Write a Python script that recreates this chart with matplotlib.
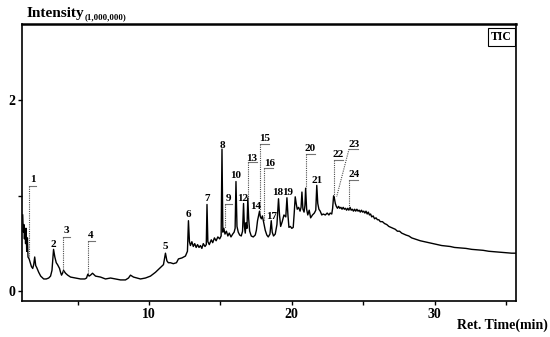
import matplotlib
matplotlib.use("Agg")
import matplotlib.pyplot as plt

# TIC trace (ret. time in min, intensity x 1,000,000)
ret_time = [
    1.15, 1.19, 1.23, 1.27, 1.31, 1.35, 1.39, 1.43, 1.48, 1.52, 1.60, 1.68, 1.76, 1.85, 1.92,
    1.99, 2.06, 2.13, 2.27, 2.41, 2.62, 2.80, 2.97, 3.10, 3.20, 3.31, 3.40, 3.50, 3.59, 3.73,
    3.80, 3.87, 3.94, 4.01, 4.15, 4.30, 4.50, 4.85, 5.20, 5.50, 5.62, 5.71, 5.80, 5.90, 6.04,
    6.25, 6.60, 6.95, 7.30, 7.65, 8.00, 8.35, 8.56, 8.70, 8.91, 9.15, 9.40, 9.75, 10.10, 10.45,
    10.80, 11.01, 11.15, 11.25, 11.35, 11.50, 11.70, 11.92, 12.06, 12.30, 12.55, 12.69, 12.76, 12.83,
    12.90, 13.00, 13.10, 13.20, 13.30, 13.40, 13.50, 13.60, 13.70, 13.80, 13.92, 14.01, 14.06, 14.12,
    14.22, 14.36, 14.46, 14.58, 14.70, 14.82, 14.95, 15.05, 15.11, 15.17, 15.24, 15.32, 15.42, 15.52,
    15.62, 15.74, 15.86, 15.96, 16.03, 16.09, 16.16, 16.25, 16.35, 16.46, 16.55, 16.62, 16.68, 16.74,
    16.80, 16.86, 16.92, 16.98, 17.05, 17.16, 17.30, 17.44, 17.52, 17.60, 17.68, 17.74, 17.80, 17.87,
    17.94, 18.02, 18.14, 18.25, 18.35, 18.47, 18.56, 18.63, 18.72, 18.84, 18.96, 19.07, 19.14, 19.22,
    19.33, 19.45, 19.58, 19.66, 19.73, 19.80, 19.90, 20.00, 20.10, 20.17, 20.24, 20.31, 20.38, 20.48,
    20.58, 20.65, 20.71, 20.78, 20.86, 20.92, 20.97, 21.04, 21.12, 21.22, 21.32, 21.45, 21.58, 21.68,
    21.75, 21.82, 21.90, 21.99, 22.10, 22.20, 22.35, 22.48, 22.60, 22.69, 22.80, 22.86, 22.93, 22.99,
    23.05, 23.12, 23.20, 23.28, 23.36, 23.44, 23.52, 23.60, 23.68, 23.76, 23.84, 23.92, 24.00, 24.08,
    24.16, 24.24, 24.32, 24.40, 24.48, 24.56, 24.64, 24.72, 24.80, 24.88, 24.96, 25.04, 25.12, 25.20,
    25.28, 25.36, 25.44, 25.52, 25.60, 25.70, 25.80, 25.90, 26.00, 26.10, 26.20, 26.35, 26.50, 26.65,
    26.80, 26.95, 27.10, 27.25, 27.40, 27.55, 27.70, 27.85, 28.00, 28.20, 28.40, 28.60, 28.80, 29.00,
    29.30, 29.60, 29.90, 30.20, 30.50, 30.80, 31.10, 31.40, 31.80, 32.20, 32.60, 33.00, 33.40, 33.80,
    34.20, 34.60, 35.00, 35.40, 35.70,
]
intensity = [
    0.80, 0.62, 0.70, 0.55, 0.66, 0.50, 0.66, 0.42, 0.56, 0.36, 0.34, 0.30, 0.26, 0.24, 0.28,
    0.36, 0.27, 0.25, 0.20, 0.16, 0.13, 0.13, 0.14, 0.16, 0.22, 0.44, 0.36, 0.30, 0.28, 0.24,
    0.20, 0.17, 0.19, 0.22, 0.19, 0.17, 0.15, 0.14, 0.13, 0.13, 0.14, 0.18, 0.16, 0.17, 0.19,
    0.16, 0.15, 0.13, 0.14, 0.13, 0.12, 0.12, 0.14, 0.17, 0.15, 0.14, 0.13, 0.14, 0.16, 0.20,
    0.25, 0.28, 0.40, 0.32, 0.30, 0.30, 0.29, 0.30, 0.34, 0.35, 0.37, 0.42, 0.74, 0.52,
    0.48, 0.52, 0.47, 0.50, 0.46, 0.49, 0.46, 0.48, 0.45, 0.50, 0.47, 0.49, 0.91, 0.52,
    0.49, 0.54, 0.51, 0.56, 0.53, 0.57, 0.55, 0.58, 1.49, 0.62, 0.66, 0.60, 0.63, 0.58,
    0.61, 0.57, 0.60, 0.62, 0.66, 1.15, 0.68, 0.62, 0.59, 0.58, 0.63, 0.92, 0.68, 0.61,
    0.72, 0.66, 0.98, 0.76, 0.63, 0.58, 0.57, 0.59, 0.64, 0.74, 0.80, 0.84, 0.78, 0.76,
    0.79, 0.73, 0.64, 0.59, 0.57, 0.60, 0.74, 0.62, 0.58, 0.60, 0.70, 0.97, 0.80, 0.68,
    0.73, 0.80, 0.78, 0.98, 0.80, 0.67, 0.68, 0.66, 0.67, 0.82, 0.99, 0.92, 0.86, 0.88,
    0.84, 0.88, 1.04, 0.86, 0.83, 0.90, 1.08, 0.86, 0.80, 0.85, 0.77, 0.80, 0.82, 0.85,
    1.11, 0.92, 0.86, 0.84, 0.80, 0.81, 0.80, 0.82, 0.80, 0.82, 0.81, 0.87, 1.00, 0.97,
    0.92, 0.89, 0.87, 0.89, 0.87, 0.88, 0.86, 0.88, 0.86, 0.87, 0.85, 0.87, 0.85, 0.88,
    0.85, 0.86, 0.84, 0.86, 0.84, 0.86, 0.84, 0.85, 0.83, 0.85, 0.83, 0.84, 0.82, 0.84,
    0.81, 0.83, 0.80, 0.81, 0.78, 0.79, 0.76, 0.77, 0.75, 0.75, 0.73, 0.73, 0.71, 0.70,
    0.68, 0.67, 0.66, 0.65, 0.63, 0.63, 0.61, 0.60, 0.59, 0.58, 0.56, 0.55, 0.54, 0.53,
    0.52, 0.51, 0.50, 0.49, 0.48, 0.475, 0.47, 0.46, 0.455, 0.45, 0.44, 0.435, 0.43, 0.42,
    0.415, 0.41, 0.405, 0.40, 0.40,
]

# peaks labelled directly above the peak: (label, time, height of label centre)
plain_labels = ["2", "5", "6", "7", "8", "10", "12", "14", "17", "18", "19", "21"]
plain_time = [3.31, 11.15, 12.76, 14.06, 15.11, 16.09, 16.55, 17.44, 18.56, 19.03, 19.70, 21.75]
plain_height = [0.49, 0.47, 0.80, 0.97, 1.53, 1.21, 0.97, 0.89, 0.78, 1.04, 1.04, 1.16]

# peaks labelled with a leader line: text centre, underline start/end, leader end on the trace
lead_labels = ["1", "3", "4", "9", "13", "15", "16", "20", "22", "23", "24"]
lead_text_t = [1.83, 4.20, 5.90, 15.57, 17.21, 18.07, 18.44, 21.29, 23.27, 24.36, 24.36]
lead_text_i = [1.17, 0.64, 0.59, 0.97, 1.39, 1.60, 1.34, 1.50, 1.43, 1.54, 1.22]
lead_line_t0 = [1.60, 3.94, 5.71, 15.29, 16.93, 17.74, 18.02, 20.97, 22.97, 24.01, 24.01]
lead_line_t1 = [2.06, 4.45, 6.18, 15.80, 17.56, 18.37, 18.68, 21.62, 23.62, 24.66, 24.66]
lead_line_i = [1.10, 0.57, 0.53, 0.91, 1.35, 1.54, 1.29, 1.44, 1.38, 1.49, 1.17]
lead_end_t = [1.60, 3.94, 5.71, 15.29, 16.93, 17.74, 18.02, 20.97, 22.97, 23.14, 24.01]
lead_end_i = [0.35, 0.20, 0.18, 0.66, 0.97, 0.84, 0.74, 1.08, 1.00, 0.99, 0.87]

font = "Liberation Serif"

fig = plt.figure(figsize=(5.5, 3.37), dpi=100)
ax = fig.add_axes([0.04, 0.107, 0.898, 0.822])

ax.plot(ret_time, intensity, color="black", lw=1.0)

for lab, t, h in zip(plain_labels, plain_time, plain_height):
    ax.text(t, h, lab, ha="center", va="center", fontsize=8,
            fontweight="bold", family=font)

for k, lab in enumerate(lead_labels):
    ax.plot([lead_line_t0[k], lead_line_t1[k]], [lead_line_i[k], lead_line_i[k]],
            color="0.45", lw=0.8)
    ax.plot([lead_line_t0[k], lead_end_t[k]], [lead_line_i[k], lead_end_i[k]],
            color="0.3", lw=0.8, ls=(0, (1, 1)))
    ax.text(lead_text_t[k], lead_text_i[k], lab, ha="center", va="center",
            fontsize=8, fontweight="bold", family=font)

ax.set_xlim(1.1, 35.7)
ax.set_ylim(-0.1, 2.8)
ax.set_xticks([10, 20, 30])
ax.set_xticks([5, 15, 25, 35], minor=True)
ax.set_yticks([0, 1, 2])
ax.set_yticklabels(["0", "", "2"])
ax.tick_params(direction="out", length=3, width=1, labelsize=10, pad=2)
ax.tick_params(which="minor", direction="out", length=3, width=1)
for lbl in ax.get_xticklabels() + ax.get_yticklabels():
    lbl.set_family(font)
    lbl.set_fontweight("bold")
for s in ax.spines.values():
    s.set_linewidth(1.2)
ax.spines["top"].set_linewidth(1.8)

ax.text(0.992, 0.975, "TIC", transform=ax.transAxes, ha="right", va="top",
        fontsize=8.5, fontweight="bold", family=font,
        bbox=dict(boxstyle="square,pad=0.25", fc="white", ec="black", lw=0.8))

fig.text(27 / 550, 1 - 13 / 337, "Intensity", ha="left", va="center",
         fontsize=11, fontweight="bold", family=font)
fig.text(85 / 550, 1 - 17 / 337, "(1,000,000)", ha="left", va="center",
         fontsize=6.3, fontweight="bold", family=font)
fig.text(548 / 550, 1 - 325 / 337, "Ret. Time(min)", ha="right", va="center",
         fontsize=10, fontweight="bold", family=font)

fig.savefig("out.png", dpi=100)
